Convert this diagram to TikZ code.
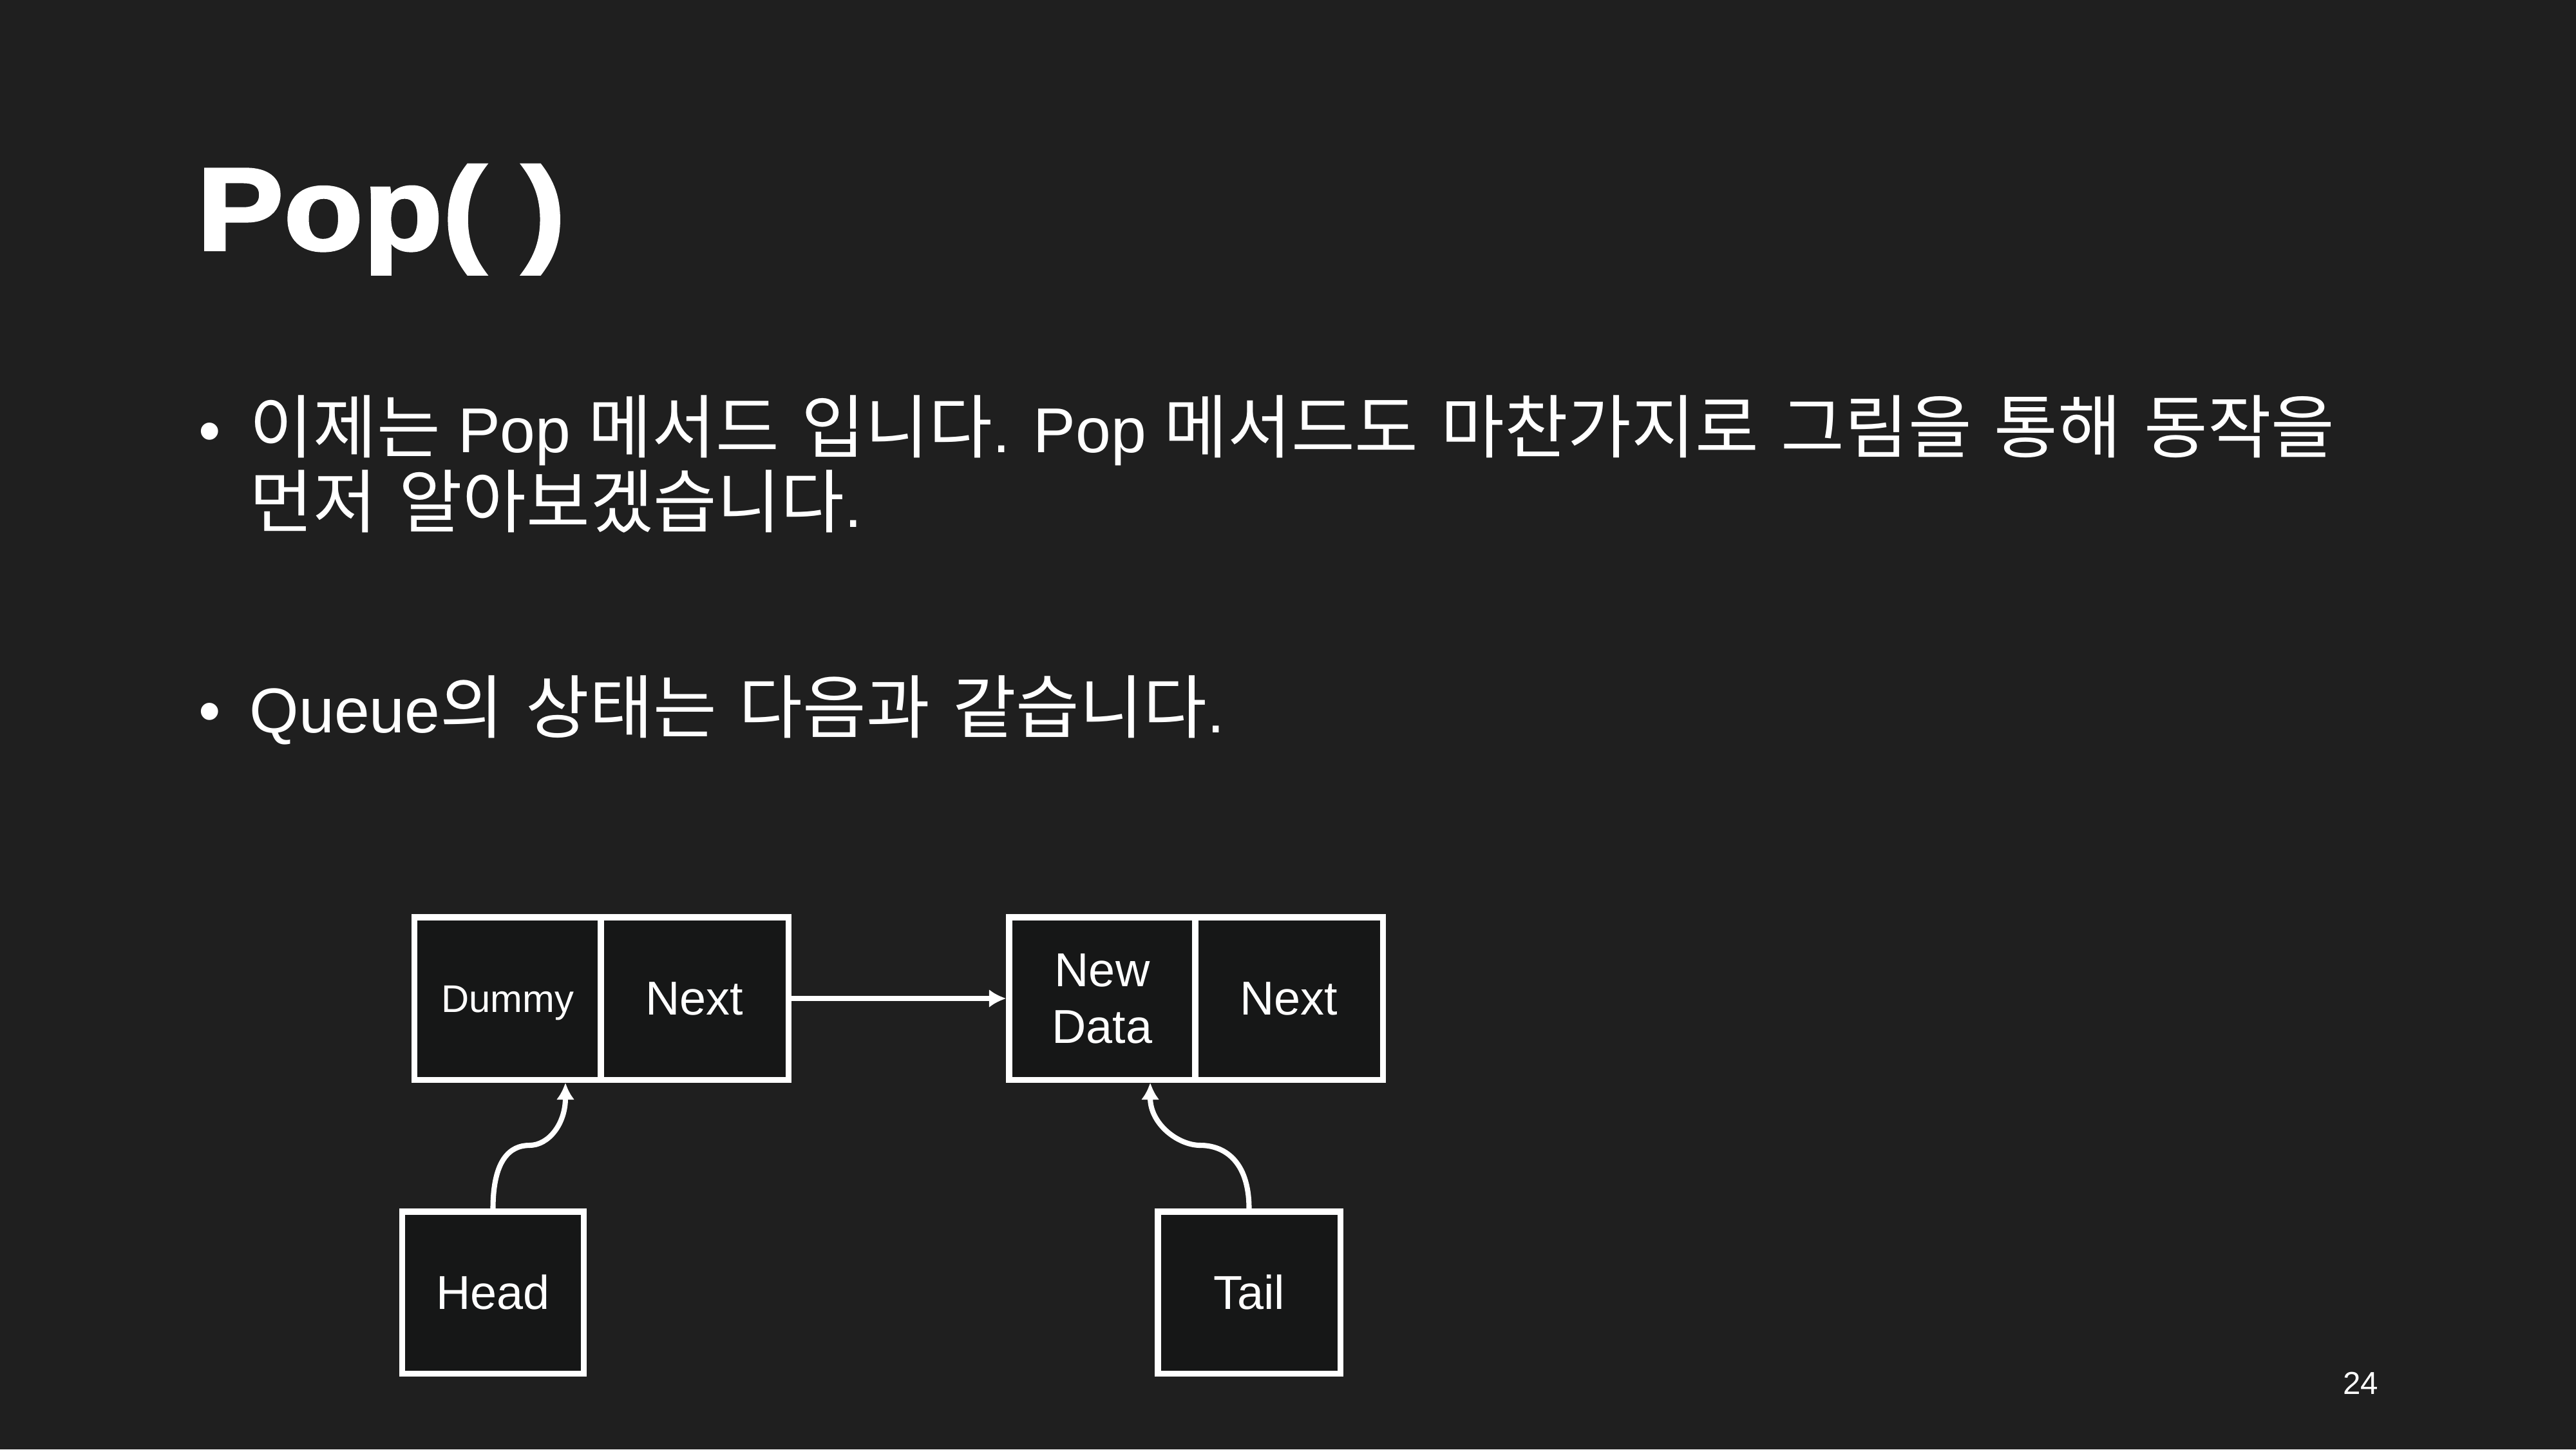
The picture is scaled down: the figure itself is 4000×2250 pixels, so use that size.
\documentclass[tikz,border=0pt]{standalone}
\usepackage{fontspec}
\setmainfont{Liberation Sans}
\newfontfamily\krfont[Scale=1.09,WordSpace=1.45]{Noto Sans CJK KR}
\newfontfamily\titlefont[BoldFeatures={FakeBold=2}]{Liberation Sans}
\usetikzlibrary{arrows.meta,calc}
\definecolor{bg}{HTML}{1F1F1F}
\definecolor{cellfill}{HTML}{161717}
\begin{document}
\begin{tikzpicture}[x=0.01cm,y=-0.01cm,
  cell/.style={draw=white,fill=cellfill,line width=2.6pt,inner sep=0pt,text=white,align=center,font=\fontsize{21pt}{25pt}\selectfont},
  conn/.style={draw=white,line width=2.3pt,-{Latex[length=7.5pt,width=8pt]}},
  txt/.style={text=white,inner sep=0pt,anchor=base west},
  body/.style={txt,font=\fontsize{28pt}{33pt}\selectfont}]
\fill[bg] (0,0) rectangle (4000,2250);
\useasboundingbox (0,0) rectangle (4000,2250);

% title and text
\node[txt,font=\titlefont\bfseries\fontsize{52pt}{60pt}\selectfont] (title) at (305,388) {\scalebox{1.105}[1]{Pop( )}};
\node[body,anchor=base] (b1) at (326,702) {\textbullet};
\node[body] (l1) at (387,702) {{\krfont 이제는} Pop {\krfont 메서드 입니다}. Pop {\krfont 메서드도 마찬가지로 그림을 통해 동작을}};
\node[body] (l2) at (387,818) {{\krfont 먼저 알아보겠습니다}.};
\node[body,anchor=base] (b2) at (326,1137) {\textbullet};
\node[body] (l3) at (387,1137) {Queue{\krfont 의 상태는 다음과 같습니다}.};
\node[txt,anchor=base east,font=\fontsize{14pt}{16pt}\selectfont] (pg) at (3694,2164) {24};

% boxes
\node[cell,minimum width=2.89cm,minimum height=2.52cm,font=\fontsize{17pt}{20pt}\selectfont,text height=12.2pt,text depth=0pt] (dummy) at (788.5,1550) {Dummy};
\node[cell,minimum width=2.91cm,minimum height=2.52cm] (next1) at (1078.5,1550) {Next};
\node[cell,minimum width=2.89cm,minimum height=2.52cm] (newdata) at (1711.5,1550) {New\\Data};
\node[cell,minimum width=2.91cm,minimum height=2.52cm] (next2) at (2001.5,1550) {Next};
\node[cell,minimum width=2.81cm,minimum height=2.51cm] (head) at (765.5,2006.5) {Head};
\node[cell,minimum width=2.83cm,minimum height=2.51cm] (tail) at (1939.5,2006.5) {Tail};

% connectors
\draw[conn] (next1.east) -- (newdata.west);
\coordinate (hmid) at (822,1778);
\coordinate (hend) at ($(dummy.south)!0.6!(dummy.south east)$);
\draw[conn] (head.north) .. controls +(0,-76) and +(-30,0) .. (hmid) .. controls +(30,0) and +(0,64) .. (hend);
\coordinate (tmid) at (1864,1778);
\coordinate (tend) at ($(newdata.south)!0.5!(newdata.south east)$);
\draw[conn] (tail.north) .. controls +(0,-76) and +(35,0) .. (tmid) .. controls +(-35,0) and +(0,64) .. (tend);
\end{tikzpicture}
\end{document}
